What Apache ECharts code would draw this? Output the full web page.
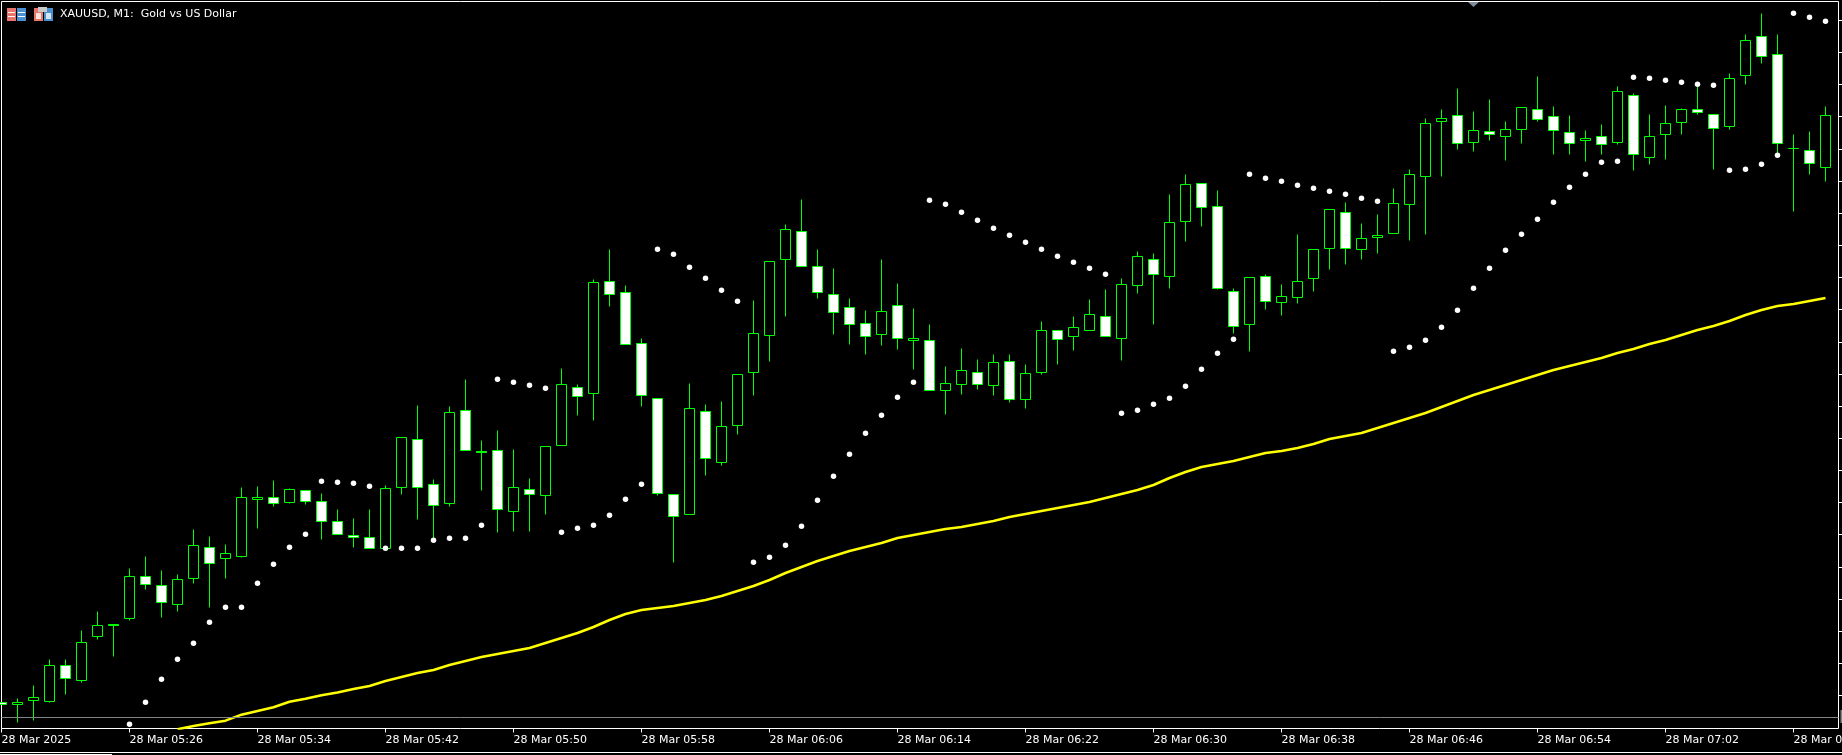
<!DOCTYPE html>
<html>
<head>
    <meta charset="utf-8">
    <title>XAUUSD, M1</title>
    <script src="https://cdn.jsdelivr.net/npm/echarts@6/dist/echarts.min.js"></script>
    <style type="text/css">
        html, body { margin: 0; padding: 0; background: #000; overflow: hidden; }
        #chart { width: 1842px; height: 755px; }
    </style>
</head>
<body>
<div id="chart"></div>
<script>
    // one bar per minute, starting 05:18
    var opens = [
        3029.72,3029.50,3029.90,3029.87,3033.43,3031.97,3036.37,3037.55,3038.17,3042.33,
        3041.43,3039.57,3042.17,3045.23,3044.17,3044.37,3050.07,3050.27,3049.77,3050.93,
        3049.87,3047.83,3046.43,3046.23,3045.17,3051.27,3056.03,3051.53,3049.63,3058.93,
        3054.87,3054.93,3048.87,3051.03,3050.47,3055.47,3061.23,3060.67,3071.83,3070.73,
        3065.63,3060.13,3050.57,3048.57,3058.87,3053.77,3057.43,3062.77,3066.47,3074.07,
        3076.87,3073.33,3070.53,3069.23,3067.63,3066.57,3069.43,3065.97,3065.93,3060.97,
        3061.57,3062.77,3061.47,3063.87,3060.07,3062.77,3066.97,3066.37,3066.97,3068.37,
        3066.17,3071.47,3074.07,3072.37,3077.87,3081.67,3079.37,3070.87,3067.57,3072.37,
        3069.77,3070.27,3072.13,3075.13,3078.77,3075.07,3076.27,3076.67,3079.57,3082.37,
        3087.87,3088.47,3085.77,3086.87,3086.37,3087.07,3089.03,3088.37,3086.77,3085.97,
        3086.37,3085.77,3090.47,3084.27,3086.57,3087.77,3089.07,3088.57,3087.37,3092.47,
        3096.37,3094.57,3085.17,3084.97,3083.27
    ];
    var closes = [
        3029.58,3029.73,3030.23,3033.43,3032.17,3035.73,3037.43,3037.45,3042.33,3041.57,
        3039.77,3042.03,3045.43,3043.67,3044.63,3050.27,3050.27,3049.67,3051.07,3049.87,
        3047.83,3046.57,3046.27,3045.17,3051.17,3056.27,3051.27,3049.47,3058.77,3054.97,
        3054.77,3049.07,3051.27,3050.57,3055.37,3061.57,3060.37,3071.77,3070.57,3065.57,
        3060.47,3050.67,3048.37,3059.17,3054.17,3057.37,3062.57,3066.67,3073.87,3077.07,
        3073.37,3070.77,3068.77,3067.57,3066.37,3068.87,3066.17,3066.17,3060.97,3061.67,
        3062.97,3061.57,3063.77,3060.07,3062.67,3066.97,3066.07,3067.27,3068.57,3066.37,
        3071.57,3074.37,3072.57,3077.77,3081.57,3079.27,3071.17,3067.37,3072.27,3069.87,
        3070.37,3071.87,3075.07,3079.07,3075.13,3076.17,3076.47,3079.67,3082.57,3087.67,
        3088.13,3085.67,3086.97,3086.57,3087.07,3089.27,3088.07,3086.97,3085.67,3086.17,
        3085.57,3090.87,3084.57,3086.37,3087.67,3089.07,3088.77,3087.17,3092.17,3095.97,
        3094.37,3085.67,3085.17,3083.67,3088.47
    ];
    var highs = [
        3029.72,3030.17,3031.40,3034.00,3034.00,3036.90,3038.80,3037.55,3043.20,3044.30,
        3042.90,3042.50,3047.00,3046.30,3045.60,3051.23,3051.30,3051.90,3051.20,3050.93,
        3050.70,3049.10,3048.20,3049.00,3051.40,3056.27,3059.40,3052.00,3059.30,3062.10,
        3055.90,3056.90,3055.10,3052.20,3055.37,3063.20,3061.60,3072.00,3075.10,3071.40,
        3066.20,3060.13,3050.57,3061.67,3059.50,3059.80,3062.57,3069.90,3073.87,3077.50,
        3080.00,3075.00,3073.20,3070.20,3068.90,3074.10,3071.70,3069.20,3067.60,3063.30,
        3065.20,3064.00,3064.50,3064.60,3063.60,3067.80,3066.97,3068.30,3070.00,3071.00,
        3072.20,3074.80,3074.70,3080.60,3082.60,3081.67,3080.90,3071.17,3072.27,3072.60,
        3071.50,3076.60,3075.07,3079.07,3079.77,3077.70,3078.60,3081.20,3083.00,3088.20,
        3089.00,3091.20,3088.80,3090.10,3087.80,3089.27,3092.30,3089.30,3088.40,3086.90,
        3087.60,3091.30,3090.70,3088.50,3089.40,3089.20,3091.33,3088.57,3092.70,3096.60,
        3098.70,3096.50,3086.60,3086.80,3089.30
    ];
    var lows = [
        3029.58,3027.73,3027.93,3029.73,3030.53,3031.73,3036.03,3034.33,3037.93,3041.03,
        3038.23,3038.83,3041.63,3039.23,3042.13,3044.23,3047.13,3049.33,3049.63,3049.53,
        3046.00,3046.57,3045.23,3045.17,3045.10,3050.50,3048.00,3046.17,3049.30,3054.97,
        3050.90,3046.73,3046.83,3046.83,3048.50,3055.47,3058.40,3057.90,3069.30,3065.57,
        3059.30,3050.47,3043.73,3048.57,3052.40,3053.43,3056.50,3060.40,3063.80,3068.30,
        3073.37,3070.20,3066.60,3065.60,3064.50,3065.40,3065.00,3063.00,3060.97,3058.60,
        3060.60,3061.00,3060.40,3059.73,3059.20,3062.50,3063.60,3064.90,3066.97,3066.37,
        3063.90,3070.70,3067.60,3071.20,3075.80,3077.30,3071.00,3066.70,3064.80,3069.10,
        3068.40,3069.70,3070.80,3073.00,3073.50,3074.00,3074.70,3076.67,3075.90,3076.60,
        3082.30,3085.10,3084.80,3085.90,3083.90,3085.70,3087.80,3084.50,3084.60,3083.80,
        3084.50,3085.50,3082.90,3083.50,3084.10,3086.50,3088.60,3083.00,3087.10,3091.60,
        3093.70,3084.70,3078.80,3082.50,3081.80
    ];
    // parabolic SAR, no value for the first eight bars
    var sarValues = [
        null,null,null,null,null,null,null,null,3027.57,3029.77,
        3032.07,3034.07,3035.67,3037.77,3039.27,3039.27,3041.67,3043.57,3045.27,3046.57,
        3051.87,3051.77,3051.67,3051.37,3045.17,3045.17,3045.17,3045.97,3046.17,3046.17,
        3047.47,3062.07,3061.77,3061.47,3061.17,3046.77,3047.17,3047.47,3048.47,3050.07,
        3051.57,3075.07,3074.57,3073.27,3072.17,3070.97,3069.87,3043.77,3044.27,3045.47,
        3047.37,3049.97,3052.37,3054.57,3056.67,3058.47,3060.27,3061.77,3079.97,3079.57,
        3078.77,3077.97,3077.17,3076.47,3075.77,3075.07,3074.37,3073.77,3073.17,3072.57,
        3058.67,3058.97,3059.57,3060.17,3061.37,3063.07,3064.67,3066.07,3082.57,3082.17,
        3081.87,3081.47,3081.17,3080.87,3080.57,3080.17,3079.87,3064.87,3065.27,3065.97,
        3067.27,3068.97,3071.17,3073.17,3074.97,3076.57,3078.07,3079.77,3081.27,3082.57,
        3083.77,3083.87,3092.27,3092.17,3091.97,3091.77,3091.57,3091.47,3082.97,3083.07,
        3083.57,3084.47,3098.67,3098.27,3097.87
    ];
    // moving average, below the visible window before bar 11
    var maValues = [
        null,null,null,null,null,null,null,null,null,null,
        null,3027.07,3027.40,3027.67,3027.93,3028.53,3028.90,3029.27,3029.83,3030.13,
        3030.47,3030.75,3031.10,3031.40,3031.90,3032.30,3032.70,3033.00,3033.50,3033.90,
        3034.30,3034.60,3034.90,3035.20,3035.70,3036.20,3036.70,3037.30,3038.00,3038.60,
        3039.00,3039.20,3039.40,3039.70,3040.00,3040.40,3040.90,3041.40,3042.00,3042.70,
        3043.30,3043.90,3044.40,3044.90,3045.30,3045.70,3046.20,3046.50,3046.80,3047.10,
        3047.30,3047.60,3047.90,3048.30,3048.60,3048.90,3049.20,3049.50,3049.80,3050.20,
        3050.60,3051.00,3051.50,3052.20,3052.80,3053.30,3053.60,3053.90,3054.30,3054.70,
        3054.90,3055.20,3055.60,3056.10,3056.40,3056.70,3057.20,3057.70,3058.20,3058.70,
        3059.30,3059.90,3060.50,3061.00,3061.50,3062.00,3062.50,3063.00,3063.40,3063.80,
        3064.20,3064.70,3065.10,3065.60,3066.00,3066.50,3067.00,3067.40,3067.90,3068.50,
        3069.00,3069.40,3069.60,3069.90,3070.20
    ];
    var bidLine = 3028.25;
    var priceTicks = [
        3097.95,3094.75,3091.55,3088.35,3085.05,3081.85,3078.65,3075.45,3072.25,3069.05,3065.75,
        3062.55,3059.35,3056.15,3052.95,3049.75,3046.55,3043.25,3040.05,3036.85,3033.65,3030.45
    ];
    var timeLabels = [
        '28 Mar 2025','28 Mar 05:26','28 Mar 05:34','28 Mar 05:42','28 Mar 05:50',
        '28 Mar 05:58','28 Mar 06:06','28 Mar 06:14','28 Mar 06:22','28 Mar 06:30',
        '28 Mar 06:38','28 Mar 06:46','28 Mar 06:54','28 Mar 07:02','28 Mar 07:10'
    ];
    var labelStep = 8;

    // keep prices on the 0.1 grid of the scale so body edges land on whole pixel rows
    function snap(v) {
        return Math.round((v - 0.05) * 10) / 10 + 0.05;
    }

    var candles = [];
    for (var i = 0; i < opens.length; i++) {
        candles.push([i, snap(opens[i]), snap(closes[i]), snap(lows[i]), snap(highs[i])]);
    }
    function points(values) {
        var out = [];
        for (var i = 0; i < values.length; i++) {
            if (values[i] !== null) out.push([i, values[i]]);
        }
        return out;
    }
    var timeTicks = timeLabels.map(function (t, i) { return i * labelStep; });

    function box(x, y, w, h, color) {
        return { type: 'rect', silent: true, shape: { x: x, y: y, width: w, height: h }, style: { fill: color } };
    }

    var myChart = echarts.init(document.getElementById('chart'));
    var font = 'DejaVu Sans';

    var option = {
        animation: false,
        backgroundColor: '#000000',
        title: {
            text: 'XAUUSD, M1:  Gold vs US Dollar',
            left: 60,
            top: 9,
            padding: 0,
            textStyle: { color: '#ffffff', fontSize: 11, fontWeight: 'normal', fontFamily: font }
        },
        grid: {
            left: 1.5, top: 1.5, width: 1837, height: 727,
            outerBoundsMode: 'none',
            show: true, borderColor: '#ffffff', borderWidth: 1, backgroundColor: 'transparent'
        },
        xAxis: {
            type: 'value',
            min: 0,
            max: 114.8125,
            splitLine: { show: false },
            axisLine: { show: false, onZero: false },
            axisTick: { show: true, length: 4, customValues: timeTicks, lineStyle: { color: '#ffffff' } },
            axisLabel: {
                customValues: timeTicks,
                color: '#ffffff',
                fontSize: 11,
                fontFamily: font,
                align: 'left',
                margin: 6,
                hideOverlap: false,
                formatter: function (v) { return timeLabels[v / labelStep]; }
            }
        },
        yAxis: {
            type: 'value',
            position: 'right',
            min: 3027.15,
            max: 3099.85,
            splitLine: { show: false },
            axisLine: { show: false, onZero: false },
            axisTick: { show: true, length: 4, customValues: priceTicks, lineStyle: { color: '#ffffff' } },
            axisLabel: { show: false }
        },
        series: [
            {
                type: 'candlestick',
                data: candles,
                barWidth: 10,
                silent: true,
                itemStyle: {
                    color: '#000000',
                    color0: '#ffffff',
                    borderColor: '#00ff00',
                    borderColor0: '#00ff00',
                    borderColorDoji: '#00ff00',
                    borderWidth: 1
                },
                markLine: {
                    silent: true,
                    symbol: 'none',
                    label: { show: false },
                    lineStyle: { color: '#808488', type: 'solid', width: 1 },
                    data: [{ yAxis: bidLine }]
                }
            },
            {
                type: 'line',
                data: points(maValues),
                showSymbol: false,
                silent: true,
                z: 4,
                lineStyle: { color: '#ffff00', width: 2.5 }
            },
            {
                type: 'scatter',
                data: points(sarValues),
                symbolSize: 5.5,
                silent: true,
                z: 5,
                itemStyle: { color: '#ffffff', opacity: 1 }
            }
        ],
        graphic: {
            elements: [
                // table icon
                box(7, 8, 9, 13, '#e8746a'),
                box(17, 8, 9, 13, '#4a90d0'),
                box(8, 12, 7, 1, '#ffffff'),
                box(8, 16, 7, 1, '#ffffff'),
                box(18, 12, 7, 1, '#ffffff'),
                box(18, 16, 7, 1, '#ffffff'),
                // disk icon
                box(34, 8, 9, 13, '#e8746a'),
                box(44, 8, 9, 13, '#4a90d0'),
                box(38, 7, 9, 5, '#c8c8c8'),
                box(36, 13, 5, 6, '#fbe3de'),
                box(46, 13, 5, 6, '#d4e6f6'),
                // scroll marker at the top edge
                { type: 'polygon', silent: true, shape: { points: [[1468, 2], [1479, 2], [1473.5, 7]] }, style: { fill: '#7f8c99' } },
                // price tag stub at the right edge
                box(1840.5, 710, 1.5, 13, '#808488'),
                // bottom strip
                box(0, 752, 1842, 1, '#ffffff'),
                box(0, 754, 112, 1, '#ffffff')
            ]
        }
    };

    myChart.setOption(option);
</script>
</body>
</html>
